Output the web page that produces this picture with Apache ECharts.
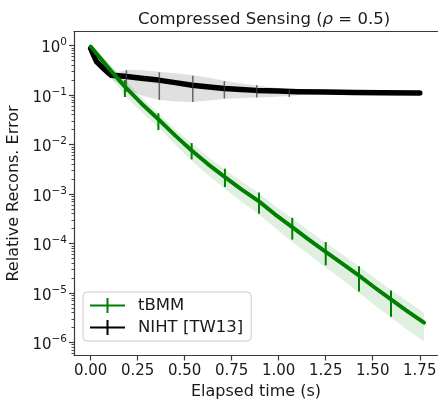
<!DOCTYPE html>
<html><head><meta charset="utf-8">
<script src="https://cdn.jsdelivr.net/npm/echarts@6/dist/echarts.min.js"></script>
<style>html,body{margin:0;padding:0;background:#fff}#c{width:438px;height:400px}</style>
</head><body><div id="c"></div>
<script>
// ---------- data ----------
const xTicks = [0, 0.25, 0.5, 0.75, 1.0, 1.25, 1.5, 1.75];
const yTicks = [1e-6, 1e-5, 1e-4, 1e-3, 1e-2, 1e-1, 1];

// tBMM (green)
const tbmmT = [0.00, 0.09, 0.182, 0.27, 0.36, 0.45, 0.537, 0.625, 0.714, 0.80, 0.895, 0.98, 1.072, 1.16, 1.25, 1.34, 1.427, 1.51, 1.597, 1.685, 1.773];
const tbmmY = [0.955, 0.372, 0.148, 0.0676, 0.0324, 0.0151, 0.00759, 0.00398, 0.00219, 0.00126, 7.08e-4, 3.89e-4, 2.14e-4, 1.20e-4, 6.76e-5, 3.89e-5, 2.24e-5, 1.29e-5, 7.41e-6, 4.27e-6, 2.51e-6];
const tbmmHi = [1.05, 0.465, 0.200, 0.0899, 0.0428, 0.0204, 0.01047, 0.00557, 0.00311, 0.00181, 1.03e-3, 5.72e-4, 3.21e-4, 1.80e-4, 1.03e-4, 5.95e-5, 3.47e-5, 2.01e-5, 1.16e-5, 6.75e-6, 3.97e-6];
const tbmmLo = [0.86, 0.279, 0.0962, 0.0453, 0.0220, 0.00982, 0.00471, 0.00239, 0.00127, 7.06e-4, 3.89e-4, 2.06e-4, 1.07e-4, 6.0e-5, 3.24e-5, 1.83e-5, 1.01e-5, 5.68e-6, 3.19e-6, 1.79e-6, 1.05e-6];
const tbmmErrT = [0.182, 0.36, 0.537, 0.714, 0.895, 1.072, 1.25, 1.427, 1.597];
const tbmmErrLo = [0.0912, 0.0195, 0.00501, 0.00138, 3.98e-4, 1.20e-4, 3.63e-5, 1.07e-5, 3.31e-6];
const tbmmErrHi = [0.200, 0.0427, 0.0107, 0.00324, 1.07e-3, 3.31e-4, 1.07e-4, 3.47e-5, 1.12e-5];

// NIHT [TW13] (black)
const nihtT = [0.0, 0.015, 0.032, 0.067, 0.093, 0.11, 0.18, 0.27, 0.36, 0.45, 0.54, 0.63, 0.71, 0.80, 0.88, 1.00, 1.10, 1.25, 1.40, 1.55, 1.75];
const nihtY = [0.871, 0.646, 0.468, 0.347, 0.282, 0.251, 0.240, 0.219, 0.200, 0.178, 0.158, 0.145, 0.135, 0.129, 0.124, 0.120, 0.117, 0.115, 0.112, 0.111, 0.110];
const nihtBandT = [0.10, 0.19, 0.28, 0.365, 0.45, 0.543, 0.63, 0.711, 0.80, 0.883, 0.97, 1.056, 1.15, 1.25, 1.35];
const nihtHi = [0.263, 0.324, 0.316, 0.295, 0.275, 0.251, 0.224, 0.195, 0.170, 0.155, 0.141, 0.129, 0.120, 0.115, 0.1135];
const nihtLo = [0.234, 0.126, 0.0955, 0.0794, 0.0741, 0.0724, 0.0776, 0.0832, 0.0871, 0.0891, 0.0912, 0.0955, 0.102, 0.107, 0.110];
const nihtErrT = [0.19, 0.365, 0.543, 0.711, 0.883, 1.056];
const nihtErrHi = [0.316, 0.288, 0.245, 0.191, 0.158, 0.129];
const nihtErrLo = [0.115, 0.0794, 0.0724, 0.0851, 0.0891, 0.0912];

// ---------- chart ----------
const yMinor = [];
for (let e = -7; e <= 0; e++) for (let m = 2; m <= 9; m++) yMinor.push(m * Math.pow(10, e));

const FONT = 'DejaVu Sans';
const TXT = '#1a1a1a';
const GREEN = '#008000';
const SPINE = '#3a3a3a';
const GRID_LEFT = 74, W = 438;
const X_MIN = -0.0886, X_MAX = 1.847;
const Y_MIN = Math.pow(10, -6.263), Y_MAX = Math.pow(10, 0.283);

function bandSeries(name, T, hi, lo, fill) {
  return {
    type: 'custom', name: name, coordinateSystem: 'cartesian2d', silent: true, z: 1,
    data: [[T[0], hi[0]]],
    renderItem: function (params, api) {
      const pts = [];
      for (let i = 0; i < T.length; i++) pts.push(api.coord([T[i], hi[i]]));
      for (let i = T.length - 1; i >= 0; i--) pts.push(api.coord([T[i], lo[i]]));
      return { type: 'polygon', shape: { points: pts }, style: { fill: fill, stroke: null } };
    }
  };
}
function errSeries(name, T, lo, hi, color, w, z) {
  return {
    type: 'custom', name: name, coordinateSystem: 'cartesian2d', silent: true, z: z,
    data: T.map((t, i) => [t, lo[i], hi[i]]),
    encode: { x: 0, y: [1, 2] },
    renderItem: function (params, api) {
      const a = api.coord([api.value(0), api.value(1)]);
      const b = api.coord([api.value(0), api.value(2)]);
      return { type: 'line', shape: { x1: a[0], y1: a[1], x2: b[0], y2: b[1] }, style: { stroke: color, lineWidth: w } };
    }
  };
}

const yLabelRich = {
  b: { fontFamily: FONT, fontSize: 15, color: TXT, verticalAlign: 'bottom', padding: [6, 0, 0, 0] },
  s: { fontFamily: FONT, fontSize: 10.5, color: TXT, verticalAlign: 'bottom', padding: [0, 0, 8, 0] }
};

const iconPath = 'path://M0,6.5L35,6.5L35,8.5L0,8.5Z M16.5,0L18.5,0L18.5,15L16.5,15Z';

const chart = echarts.init(document.getElementById('c'), null, { renderer: 'canvas' });
chart.setOption({
  animation: false,
  backgroundColor: '#fff',
  title: {
    text: 'Compressed Sensing ({i|ρ} = 0.5)',
    left: 259, top: 6, textAlign: 'center',
    textStyle: {
      fontFamily: FONT, fontSize: 16.5, fontWeight: 'normal', color: TXT,
      rich: { i: { fontFamily: FONT, fontSize: 16.5, fontStyle: 'italic', color: TXT } }
    }
  },
  grid: { left: GRID_LEFT, top: 31.5, right: 0, bottom: 44.5, show: false, containLabel: false, outerBoundsMode: 'none' },
  legend: {
    left: 83, top: 292, orient: 'vertical',
    padding: [5, 8, 5, 7], itemGap: 5,
    itemWidth: 35, itemHeight: 15,
    borderColor: '#cccccc', borderWidth: 1, borderRadius: 4,
    backgroundColor: 'rgba(255,255,255,0.8)',
    textStyle: { fontFamily: FONT, fontSize: 16.5, color: TXT, padding: [0, 0, 0, 8] },
    data: [
      { name: 'tBMM', icon: iconPath, itemStyle: { color: GREEN } },
      { name: 'NIHT [TW13]', icon: iconPath, itemStyle: { color: '#000' } }
    ]
  },
  xAxis: [{
    type: 'value', min: X_MIN, max: X_MAX, position: 'bottom',
    name: 'Elapsed time (s)', nameLocation: 'middle', nameGap: 26,
    nameTextStyle: { fontFamily: FONT, fontSize: 16, color: TXT },
    axisLine: { show: true, onZero: false, lineStyle: { color: SPINE, width: 1.2 } },
    axisTick: { show: true, length: 5, customValues: xTicks, lineStyle: { color: SPINE, width: 1.2 } },
    axisLabel: { customValues: xTicks, margin: 8, fontFamily: FONT, fontSize: 15, color: TXT, formatter: v => v.toFixed(2) },
    splitLine: { show: false }
  }, {
    type: 'value', min: X_MIN, max: X_MAX, position: 'top',
    axisLine: { show: true, onZero: false, lineStyle: { color: SPINE, width: 1.2 } },
    axisTick: { show: false }, axisLabel: { show: false }, splitLine: { show: false }
  }],
  yAxis: [{
    type: 'log', logBase: 10, min: Y_MIN, max: Y_MAX, position: 'left',
    name: 'Relative Recons. Error', nameLocation: 'middle', nameGap: 50,
    nameTextStyle: { fontFamily: FONT, fontSize: 16, color: TXT },
    axisLine: { show: true, onZero: false, lineStyle: { color: SPINE, width: 1.2 } },
    axisTick: { show: true, length: 5, customValues: yTicks, lineStyle: { color: SPINE, width: 1.2 } },
    axisLabel: {
      customValues: yTicks, margin: 7,
      formatter: function (v) {
        const e = Math.round(Math.log10(v));
        return '{b|10}{s|' + (e < 0 ? '−' : '') + Math.abs(e) + '}';
      },
      rich: yLabelRich
    },
    splitLine: { show: false }
  }, {
    // minor ticks: secondary axis moved onto the left spine
    type: 'log', logBase: 10, min: Y_MIN, max: Y_MAX, position: 'right', offset: -(W - GRID_LEFT),
    axisLine: { show: false, onZero: false },
    axisTick: { show: true, inside: true, length: 2.5, customValues: yMinor, lineStyle: { color: SPINE, width: 0.9 } },
    axisLabel: { show: false },
    splitLine: { show: false }
  }],
  series: [
    bandSeries('nihtBand', nihtBandT, nihtHi, nihtLo, 'rgba(0,0,0,0.12)'),
    bandSeries('tbmmBand', tbmmT, tbmmHi, tbmmLo, 'rgba(0,128,0,0.12)'),
    {
      type: 'line', name: 'NIHT [TW13]', z: 3, showSymbol: false, silent: true,
      data: nihtT.map((t, i) => [t, nihtY[i]]),
      lineStyle: { color: '#000', width: 5.5, cap: 'round', join: 'round' },
      itemStyle: { color: '#000' }
    },
    errSeries('nihtErr', nihtErrT, nihtErrLo, nihtErrHi, 'rgba(60,60,60,0.75)', 1.5, 4),
    {
      type: 'line', name: 'tBMM', z: 5, showSymbol: false, silent: true,
      data: tbmmT.map((t, i) => [t, tbmmY[i]]),
      lineStyle: { color: GREEN, width: 4, cap: 'round', join: 'round' },
      itemStyle: { color: GREEN }
    },
    errSeries('tbmmErr', tbmmErrT, tbmmErrLo, tbmmErrHi, GREEN, 2, 6)
  ]
});
</script>
</body></html>
